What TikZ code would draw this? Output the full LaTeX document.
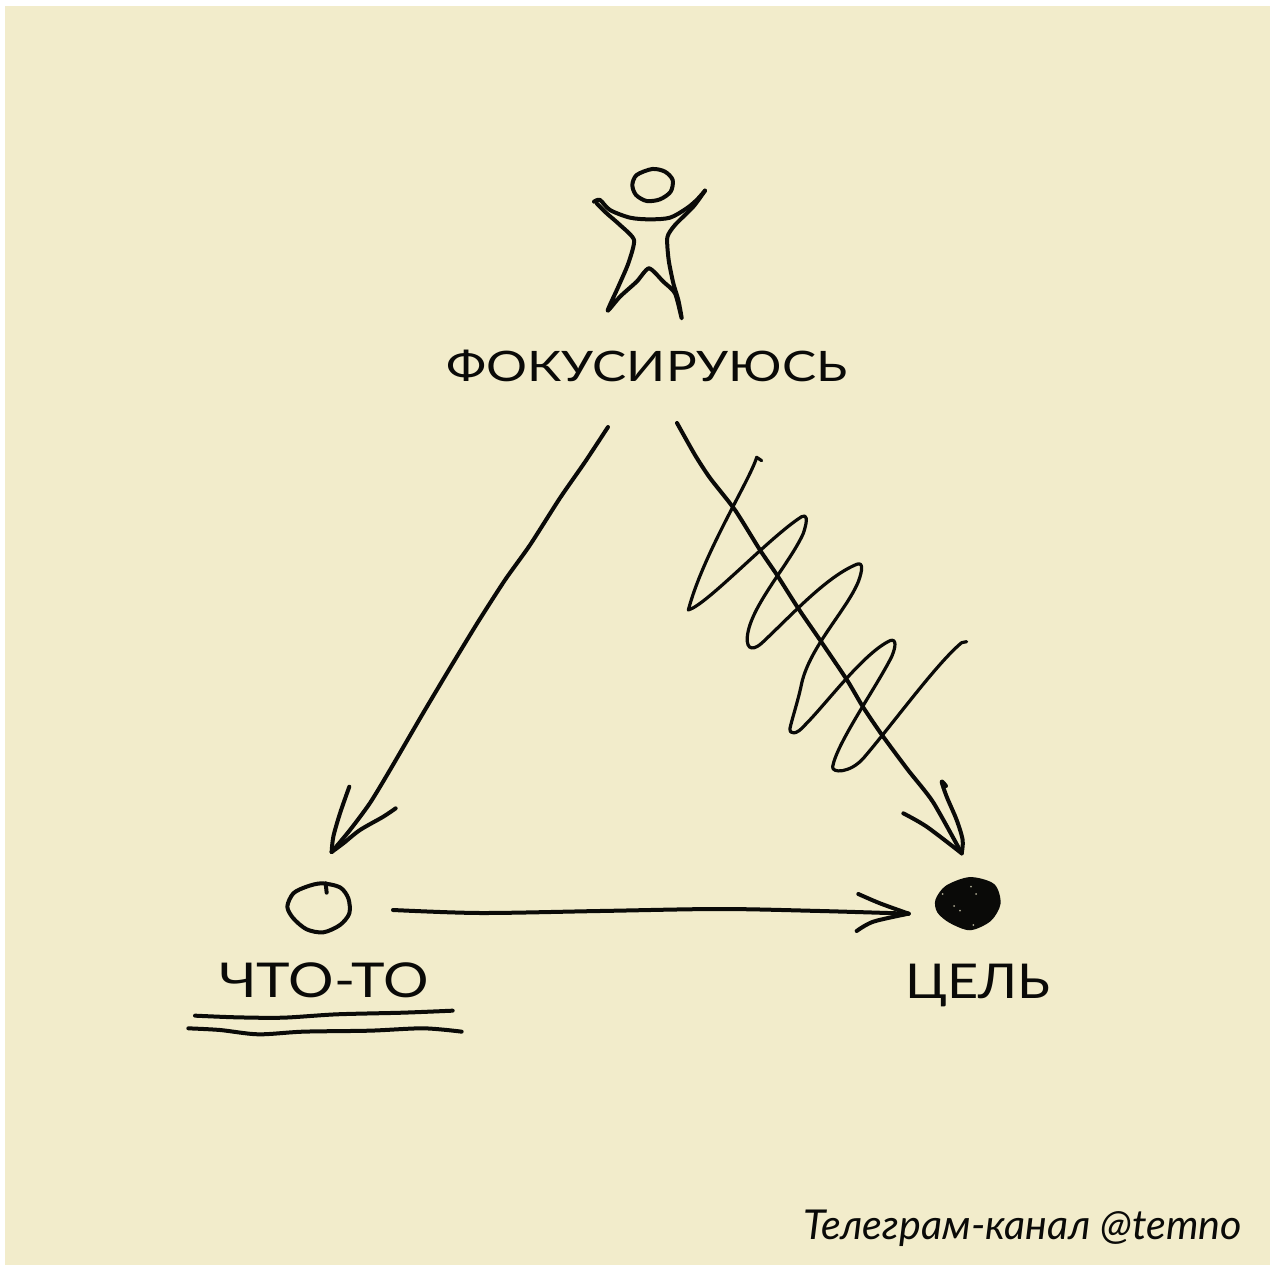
\documentclass[tikz,border=0pt]{standalone}
\usepackage{fontspec}
\setmainfont{Lato}
\definecolor{paper}{HTML}{F2ECCB}
\definecolor{inkc}{HTML}{0A0A08}
\tikzset{
  ink/.style={draw=inkc,line width=4pt,line cap=round,line join=round},
  fine/.style={draw=inkc,line width=3.2pt,line cap=round,line join=round},
  hand/.style={inner sep=0pt,outer sep=0pt,anchor=base,text=inkc,transform shape},
  zoomA/.style={shift={(430,150)},x=0.33333pt,y=-0.33333pt},
  zoomB/.style={shift={(170,770)},x=0.33333pt,y=-0.33333pt},
  zoomC/.style={shift={(840,770)},x=0.33333pt,y=-0.33333pt},
  zoomD/.style={shift={(660,420)},x=0.33333pt,y=-0.33333pt},
}
\begin{document}
\begin{tikzpicture}[x=1pt,y=-1pt]
\useasboundingbox (0,0) rectangle (1270,1265);
\fill[white] (0,0) rectangle (1270,1265);
\fill[paper] (5,6) rectangle (1270,1265);

% labels
\node[hand,xscale=1.22,font=\fontsize{42}{42}\selectfont] (focus) at (647,382) {ФОКУСИРУЮСЬ};
\node[hand,xscale=1.185,font=\fontsize{48}{48}\selectfont] (thing) at (324,997) {ЧТО-ТО};
\node[hand,xscale=1.125,font=\fontsize{48}{48}\selectfont] (goal) at (978,998) {ЦЕЛЬ};
\node[inner sep=0pt,outer sep=0pt,anchor=base west,text=inkc,font=\fontsize{41.2}{41.2}\selectfont\itshape] (credit) at (803,1239) {Телеграм-канал @temno};

% person
\begin{scope}[zoomA]
\draw[ink] plot[smooth cycle] coordinates {(667,57) (705,65) (728,90) (722,125) (690,148) (650,153) (618,135) (607,105) (620,75)};
\draw[ink] plot[smooth] coordinates {(492,155) (510,150) (540,180) (600,203) (660,208) (720,203) (770,175) (800,150) (825,122)};
\draw[ink] plot[smooth,tension=0.4] coordinates {(825,122) (790,170) (735,225) (712,262) (716,330) (730,400) (745,450) (755,505) (735,430) (700,395) (657,355) (620,395) (570,440) (533,482) (565,410) (595,340) (612,270) (570,225) (530,190) (500,160)};
\end{scope}

% open circle
\begin{scope}[zoomB]
\coordinate (thingc) at (447,413);
\draw[ink] plot[smooth cycle] coordinates {(455,340) (510,352) (535,385) (538,430) (510,465) (460,487) (410,478) (370,445) (352,410) (370,370) (410,350)};
\draw[ink] (467,340) -- (470,368);
% underlines
\draw[ink] plot[smooth] coordinates {(75,737) (200,742) (340,743) (500,733) (700,728) (848,722)};
\draw[ink] plot[smooth] coordinates {(55,775) (150,780) (265,793) (400,785) (600,782) (760,775) (875,785)};
% head of the left arrow
\coordinate (ltip) at (485,246);
\draw[ink] plot[smooth] coordinates {(538,50) (510,130) (490,200) (ltip)};
\draw[ink] plot[smooth] coordinates {(677,115) (640,140) (570,180) (520,220) (ltip)};
\end{scope}

% filled circle
\begin{scope}[zoomC]
\coordinate (goalc) at (385,400);
\fill[inkc,draw=inkc,line width=2.5pt] plot[smooth cycle] coordinates {(290,390) (320,350) (390,325) (460,345) (478,400) (450,450) (390,477) (330,455) (295,425)};
\foreach \a/\b in {393/350,408/372,308/372,360/422,342/408,400/465}
  \fill[paper!70!inkc] (\a,\b) circle[radius=3];
% head of the horizontal arrow
\coordinate (htip) at (206,431);
\draw[ink] plot[smooth] coordinates {(55,372) (120,400) (htip)};
\draw[ink] plot[smooth] coordinates {(50,483) (100,455) (htip)};
% head of the right arrow
\coordinate (rtip) at (365,250);
\draw[ink] plot[smooth] coordinates {(190,130) (260,170) (rtip)};
\draw[ink] plot[smooth] coordinates {(318,48) (305,35) (320,80) (350,150) (368,210) (rtip)};
\end{scope}

% connectors
\coordinate (lstart) at (608,427);
\coordinate (rstart) at (677,423);
\coordinate (hstart) at (393,910);
\draw[ink] plot[smooth,tension=0.4] coordinates {(lstart) (585,462) (560,498) (530,545) (505,580) (478,622) (450,668) (422,715) (390,770) (370,803) (350,830) (ltip)};
\draw[ink] plot[smooth,tension=0.4] coordinates {(rstart) (695,455) (710,478) (735,510) (760,550) (777,575) (798,608) (820,640) (847,680) (863,707) (882,735) (908,770) (933,802) (rtip)};
\draw[ink] plot[smooth] coordinates {(hstart) (480,913) (600,911) (720,909) (820,911) (htip)};

% squiggle
\begin{scope}[zoomD]
\draw[fine] (305,122) -- (290,112)
  .. controls (270,180) and (130,400) .. (85,570)
  .. controls (140,555) and (330,350) .. (425,290)
  .. controls (440,282) and (445,295) .. (430,340)
  .. controls (390,430) and (270,560) .. (262,650)
  .. controls (258,695) and (285,690) .. (310,665)
  .. controls (400,580) and (500,470) .. (590,433)
  .. controls (610,425) and (608,450) .. (595,485)
  .. controls (560,570) and (450,680) .. (425,790)
  .. controls (415,840) and (395,900) .. (390,925)
  .. controls (388,945) and (410,945) .. (435,915)
  .. controls (500,850) and (610,700) .. (690,662)
  .. controls (710,655) and (708,680) .. (695,710)
  .. controls (650,800) and (530,970) .. (518,1040)
  .. controls (515,1060) and (570,1060) .. (610,1015)
  .. controls (700,910) and (830,730) .. (905,668) -- (920,665);
\end{scope}
\end{tikzpicture}
\end{document}
